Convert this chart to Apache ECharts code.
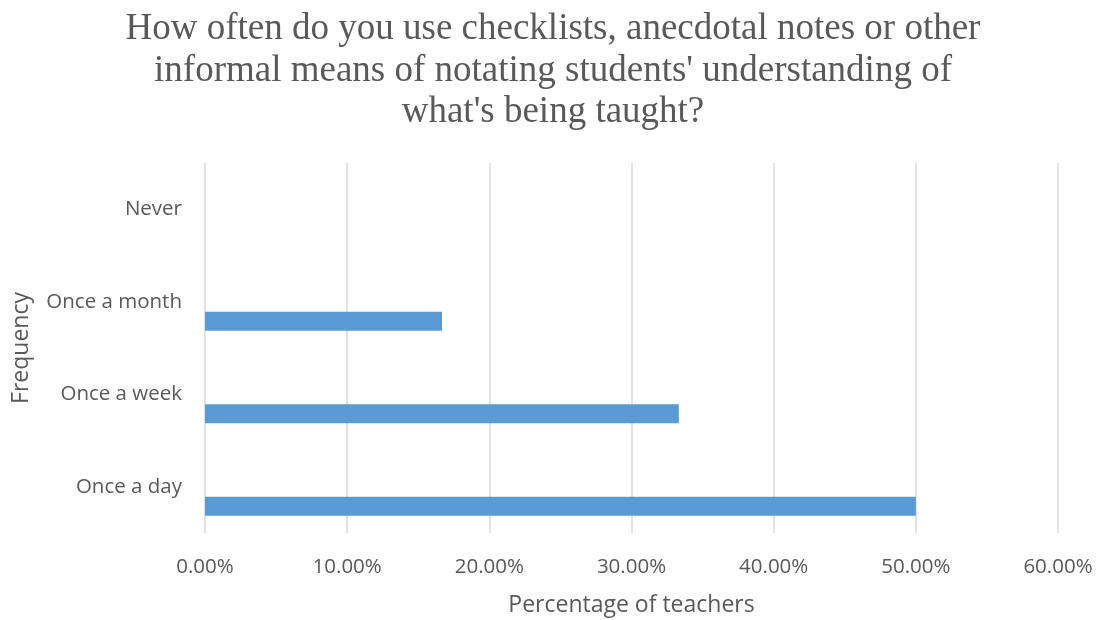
<!DOCTYPE html>
<html>
<head>
<meta charset="utf-8">
<script src="https://cdn.jsdelivr.net/npm/echarts@6/dist/echarts.min.js"></script>
<style>
  html, body { margin: 0; padding: 0; background: #fff; }
  #chart { width: 1102px; height: 620px; }
</style>
</head>
<body>
<div id="chart"></div>
<script>
// Survey: frequency of informal notation of student understanding
const categories = ['Once a day', 'Once a week', 'Once a month', 'Never'];
const percentTeachers = [50.0, 33.33, 16.67, 0];
const xTicks = [0, 10, 20, 30, 40, 50, 60];

const titleText = 'How often do you use checklists, anecdotal notes or other\ninformal means of notating students\' understanding of\nwhat\'s being taught?';

const chart = echarts.init(document.getElementById('chart'), null, { renderer: 'canvas' });

const labelFont = '"Open Sans", "Noto Sans", sans-serif';

chart.setOption({
  animation: false,
  backgroundColor: '#ffffff',
  title: {
    text: titleText,
    left: 548,
    top: 4,
    textAlign: 'center',
    textStyle: {
      fontFamily: '"Liberation Serif", "Times New Roman", serif',
      fontSize: 37,
      fontWeight: 'normal',
      color: '#595959',
      lineHeight: 41.5
    }
  },
  grid: {
    left: 205,
    right: 44,
    top: 163,
    bottom: 87,
    containLabel: false,
    outerBoundsMode: 'none'
  },
  xAxis: {
    type: 'value',
    min: xTicks[0],
    max: xTicks[xTicks.length - 1],
    interval: 10,
    name: 'Percentage of teachers',
    nameLocation: 'middle',
    nameGap: 61,
    nameTextStyle: { fontFamily: labelFont, fontSize: 23, color: '#595959' },
    axisLine: { show: false },
    axisTick: { show: false },
    axisLabel: {
      margin: 24,
      fontFamily: labelFont,
      fontSize: 20.5,
      color: '#595959',
      formatter: v => v.toFixed(2) + '%'
    },
    splitLine: { show: true, lineStyle: { color: '#d9d9d9', width: 1.5 } }
  },
  yAxis: {
    type: 'category',
    data: categories,
    name: 'Frequency',
    nameLocation: 'middle',
    nameGap: 172,
    nameRotate: 90,
    nameTextStyle: { fontFamily: labelFont, fontSize: 23, color: '#595959' },
    axisLine: { show: false },
    axisTick: { show: false },
    axisLabel: {
      margin: 23,
      fontFamily: labelFont,
      fontSize: 20.5,
      color: '#595959'
    },
    splitLine: { show: false }
  },
  series: [
    {
      name: 'spacer',
      type: 'bar',
      data: categories.map(() => null),
      barWidth: 19,
      barGap: '105%',
      itemStyle: { color: 'rgba(0,0,0,0)' },
      silent: true
    },
    {
      name: 'Percentage of teachers',
      type: 'bar',
      data: percentTeachers,
      barWidth: 19,
      barGap: '105%',
      itemStyle: { color: '#5b9bd5' },
      silent: true
    }
  ]
});
</script>
</body>
</html>
